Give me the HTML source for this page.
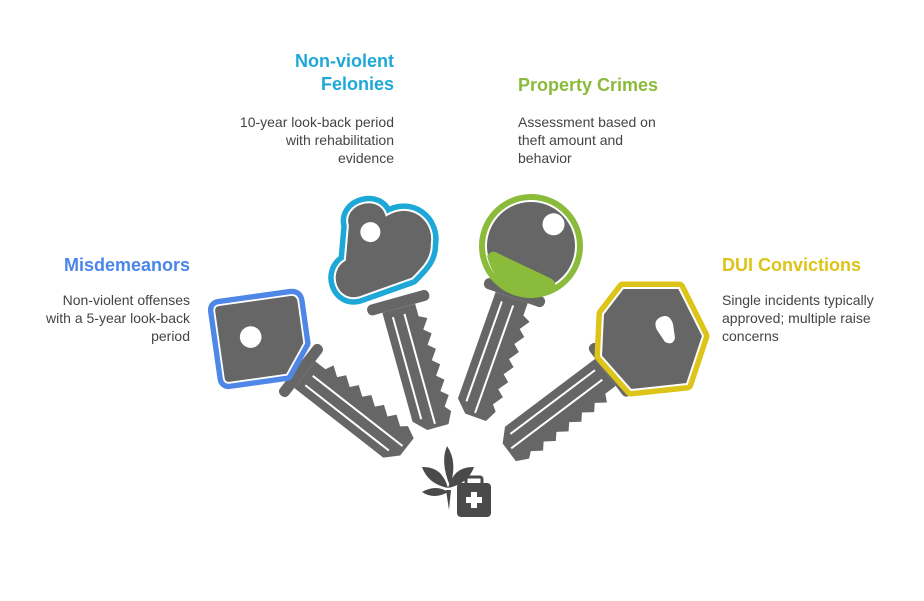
<!DOCTYPE html>
<html><head><style>
body{margin:0;background:#fff;width:924px;height:601px;overflow:hidden;font-family:"Liberation Sans",sans-serif;}
.t{position:absolute;font-weight:bold;font-size:18px;line-height:23px;}
.d{position:absolute;font-size:14px;line-height:18px;color:#444;}
.r{text-align:right}
</style></head><body>
<div class="t r" style="left:20px;width:170px;top:254px;color:#4a86e8">Misdemeanors</div>
<div class="d r" style="left:40px;width:150px;top:291px">Non-violent offenses with a 5-year look-back period</div>
<div class="t r" style="left:220px;width:174px;top:50px;color:#1ea8d8">Non-violent<br>Felonies</div>
<div class="d r" style="left:234px;width:160px;top:113px">10-year look-back period with rehabilitation evidence</div>
<div class="t" style="left:518px;width:200px;top:74px;color:#8bbb3a">Property Crimes</div>
<div class="d" style="left:518px;width:160px;top:113px">Assessment based on theft amount and behavior</div>
<div class="t" style="left:722px;width:200px;top:254px;color:#dcc418">DUI Convictions</div>
<div class="d" style="left:722px;width:172px;top:291px">Single incidents typically approved; multiple raise concerns</div>
<svg width="924" height="601" style="position:absolute;left:0;top:0">
<defs>
<g id="blade">
<rect x="-32" y="44" width="64" height="11" rx="5" fill="#666"/>
<polygon fill="#666" points="-18,55 16,55 16,68 24,72 17,82 24,88 17,98 24,104 17,114 24,120 17,130 24,136 17,146 24,152 17,162 22,168 16,180 -6,180 -18,168"/>
<line x1="-9" y1="62" x2="-9" y2="168" stroke="#fff" stroke-width="2"/>
<line x1="3" y1="62" x2="3" y2="176" stroke="#fff" stroke-width="2"/>
</g>
</defs>
<g transform="translate(262,340) rotate(-52)"><use href="#blade"/></g>
<g transform="translate(262,340) rotate(-8) scale(0.9)">
<path d="M-42,-45 L38,-45 Q46,-45 46,-37 L46,10 L22,42 L-42,42 Q-48,42 -48,36 L-48,-39 Q-48,-45 -42,-45Z" fill="#666" stroke="#4f87e6" stroke-width="14" stroke-linejoin="round"/>
<path d="M-42,-45 L38,-45 Q46,-45 46,-37 L46,10 L22,42 L-42,42 Q-48,42 -48,36 L-48,-39 Q-48,-45 -42,-45Z" fill="#666" stroke="#fff" stroke-width="2"/>
<circle cx="-12" cy="-5" r="12" fill="#fff"/>
</g>
<g transform="translate(385,255) rotate(-15.5)">
<use href="#blade"/>
<path d="M-28,-38 C-28,-62 12,-62 12,-38 C40,-46 58,-20 48,2 C44,18 30,24 20,30 L-36,34 C-60,34 -62,0 -40,-6 Z" fill="#666" stroke="#1ea8d8" stroke-width="13" stroke-linejoin="round"/>
<path d="M-28,-38 C-28,-62 12,-62 12,-38 C40,-46 58,-20 48,2 C44,18 30,24 20,30 L-36,34 C-60,34 -62,0 -40,-6 Z" fill="#666" stroke="#fff" stroke-width="2"/>
<circle cx="-8" cy="-26" r="10" fill="#fff"/>
</g>
<g transform="translate(531,246) rotate(19.5)">
<use href="#blade"/>
<circle r="52" fill="#8bbb3a"/>
<circle r="45" fill="#666" stroke="#fff" stroke-width="2"/>
<path d="M-38,24 Q-36,16 -28,18 L30,24 Q38,26 36,34 Q20,48 0,48 Q-24,46 -38,24Z" fill="#8bbb3a"/>
<circle cx="14" cy="-28" r="11" fill="#fff"/>
</g>
<g transform="translate(650,340) rotate(53)"><use href="#blade"/></g>
<g transform="translate(651,338)">
<polygon points="-28,-50 28,-50 52,-2 36,46 -20,52 -50,18 -48,-24" fill="#666" stroke="#dcc418" stroke-width="13" stroke-linejoin="round"/>
<polygon points="-28,-50 28,-50 52,-2 36,46 -20,52 -50,18 -48,-24" fill="#666" stroke="#fff" stroke-width="2"/>
<path d="M8,-20 Q18,-26 22,-14 L24,0 Q22,8 14,4 L6,-8 Q2,-16 8,-20Z" fill="#fff"/>
</g>
<g fill="#4a4a4a">
<path d="M447,446 Q458,462 450,486 Q440,462 447,446Z"/>
<path d="M422,467 Q442,466 448,488 Q428,484 422,467Z"/>
<path d="M474,467 Q454,466 448,488 Q468,484 474,467Z"/>
<path d="M422,492 Q436,484 448,492 Q434,500 422,492Z"/>
<path d="M446,490 L449,510 L451,490Z"/>
<rect x="457" y="483" width="34" height="34" rx="4"/>
</g>
<rect x="466" y="477" width="16" height="8" rx="2" fill="none" stroke="#4a4a4a" stroke-width="3"/>
<rect x="471" y="492" width="6" height="16" fill="#fff"/>
<rect x="466" y="497" width="16" height="6" fill="#fff"/>
</svg>
</body></html>
